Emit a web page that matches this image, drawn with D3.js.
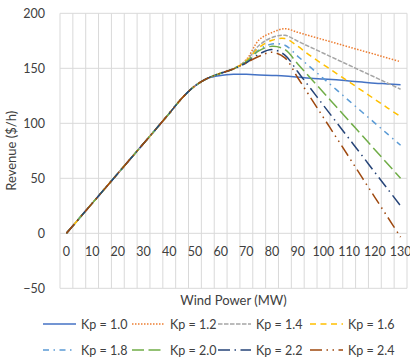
<!DOCTYPE html>
<html lang="en">
<head>
<meta charset="UTF-8">
<title>Revenue vs Wind Power</title>
<script src="https://d3js.org/d3.v7.min.js"></script>
<style>
    body { margin: 0; background: #ffffff; }
    text { font-family: Lato, "Liberation Sans", sans-serif; fill: #404040; }
</style>
</head>
<body>
<div id="chart"></div>
<script>

// wind power categories (MW)
var windPower = [0, 5, 10, 15, 20, 25, 30, 35, 40, 45, 50, 55, 60, 65,
                 70, 75, 80, 85, 90, 95, 100, 105, 110, 115, 120, 125, 130];

// revenue ($/h) per Kp
var kp10 = [0, 13.6, 27.2, 40.8, 54.4, 68, 81.6, 95.2, 109, 123, 134, 141, 143.5, 144.5,
            144.5, 144, 143.5, 143, 142, 141, 140.3, 139.5, 138.5, 137.5, 136.5, 135.8, 135];
var kp12 = [0, 13.6, 27.2, 40.8, 54.4, 68, 81.6, 95.2, 109, 123, 134, 141, 145.5, 149.5,
            158, 176, 182.5, 186, 182.7, 179.3, 176, 172.7, 169.3, 166, 162.7, 159.3, 156];
var kp14 = [0, 13.6, 27.2, 40.8, 54.4, 68, 81.6, 95.2, 109, 123, 134, 141, 145.5, 149.5,
            157, 171, 178, 180, 174.6, 169.1, 163.7, 158.2, 152.8, 147.3, 141.9, 136.4, 131];
var kp16 = [0, 13.6, 27.2, 40.8, 54.4, 68, 81.6, 95.2, 109, 123, 134, 141, 145.5, 149.5,
            157, 169, 175.5, 177, 170, 161.2, 153.3, 145.4, 137.6, 129.7, 121.8, 113.9, 106];
var kp18 = [0, 13.6, 27.2, 40.8, 54.4, 68, 81.6, 95.2, 109, 123, 134, 141, 145.5, 149.5,
            156, 167, 172, 171, 160.9, 150.8, 140.7, 130.6, 120.4, 110.3, 100.2, 90.1, 80];
var kp20 = [0, 13.6, 27.2, 40.8, 54.4, 68, 81.6, 95.2, 109, 123, 134, 141, 145.5, 149.5,
            156, 166, 170, 167, 154, 141, 128, 115, 102, 89, 76, 63, 50];
var kp22 = [0, 13.6, 27.2, 40.8, 54.4, 68, 81.6, 95.2, 109, 123, 134, 141, 145.5, 149.5,
            155, 163, 167, 162, 146.8, 131.6, 116.3, 101.1, 85.9, 70.7, 55.4, 40.2, 25];
var kp24 = [0, 13.6, 27.2, 40.8, 54.4, 68, 81.6, 95.2, 109, 123, 134, 141, 145.5, 149.5,
            155, 161, 164.5, 159.5, 141.4, 123.3, 105.2, 87.1, 69, 50.8, 32.7, 14.6, -3.5];

var seriesNames = ["Kp = 1.0", "Kp = 1.2", "Kp = 1.4", "Kp = 1.6",
                   "Kp = 1.8", "Kp = 2.0", "Kp = 2.2", "Kp = 2.4"];
var seriesValues = [kp10, kp12, kp14, kp16, kp18, kp20, kp22, kp24];

var yTicks = [-50, 0, 50, 100, 150, 200];
var xTickLabels = [0, 10, 20, 30, 40, 50, 60, 70, 80, 90, 100, 110, 120, 130];

// excel-like styles
var colors = ["#4472C4", "#ED7D31", "#A5A5A5", "#FFC000",
              "#5B9BD5", "#70AD47", "#264478", "#9E480E"];
var dashes = ["none", "1.5,1.5", "4.5,1.5", "6,4.5",
              "6,4.5,1.5,4.5", "12,4.5", "12,4.5,1.5,4.5", "12,4.5,1.5,4.5,1.5,4.5"];

var W = 410, H = 361;
var plotLeft = 60, plotRight = 407, plotTop = 13.3, plotBottom = 288.3;

var svg = d3.select("#chart")
    .append("svg")
        .attr("width", W)
        .attr("height", H);

var x = d3.scaleBand()
    .domain(windPower)
    .range([plotLeft, plotRight])
    .padding(0);

var y = d3.scaleLinear()
    .domain([-50, 200])
    .range([plotBottom, plotTop]);

// gridlines
var grid = svg.append("g").attr("stroke", "#d9d9d9").attr("stroke-width", 1);
grid.selectAll("hline")
    .data(yTicks)
    .enter()
    .append("line")
        .attr("x1", plotLeft)
        .attr("x2", plotRight)
        .attr("y1", function(d) { return y(d); })
        .attr("y2", function(d) { return y(d); });
grid.selectAll("vline")
    .data(windPower.concat(["end"]))
    .enter()
    .append("line")
        .attr("x1", function(d, i) { return plotLeft + i * x.bandwidth(); })
        .attr("x2", function(d, i) { return plotLeft + i * x.bandwidth(); })
        .attr("y1", plotTop)
        .attr("y2", plotBottom);

// y axis labels
svg.append("g")
    .attr("transform", "translate(" + (plotLeft - 3) + ",0)")
    .call(d3.axisLeft(y).tickValues(yTicks).tickSize(0).tickPadding(12))
    .call(function(g) { g.select(".domain").remove(); })
    .selectAll("text")
        .style("font-size", "12.5px")
        .style("font-family", "Lato, sans-serif")
        .attr("fill", "#404040");

// x axis labels, under the zero line
svg.append("g")
    .attr("transform", "translate(0," + y(0) + ")")
    .call(d3.axisBottom(x).tickValues(xTickLabels).tickSize(0).tickPadding(14))
    .call(function(g) { g.select(".domain").remove(); })
    .selectAll("text")
        .style("font-size", "12.5px")
        .style("font-family", "Lato, sans-serif")
        .attr("fill", "#404040");

// axis titles
svg.append("text")
    .attr("x", (plotLeft + plotRight) / 2)
    .attr("y", 305)
    .attr("text-anchor", "middle")
    .style("font-size", "13px")
    .text("Wind Power (MW)");

svg.append("text")
    .attr("transform", "translate(16," + ((plotTop + plotBottom) / 2) + ")rotate(-90)")
    .attr("text-anchor", "middle")
    .style("font-size", "13px")
    .text("Revenue ($/h)");

// lines
var line = d3.line()
    .x(function(d, i) { return x(windPower[i]) + x.bandwidth() / 2; })
    .y(function(d) { return y(d); })
    .curve(d3.curveCatmullRom.alpha(0.5));

svg.selectAll("series")
    .data(seriesValues)
    .enter()
    .append("path")
        .attr("d", function(d) { return line(d); })
        .attr("fill", "none")
        .attr("stroke", function(d, i) { return colors[i]; })
        .attr("stroke-width", 1.5)
        .attr("stroke-dasharray", function(d, i) { return dashes[i]; });

// legend
var legX = [43, 132, 218, 310];
var legY = [324, 350];
var legend = svg.selectAll("legend")
    .data(seriesNames)
    .enter()
    .append("g")
        .attr("transform", function(d, i) {
            return "translate(" + legX[i % 4] + "," + legY[Math.floor(i / 4)] + ")";
        });
legend.append("line")
    .attr("x1", 0)
    .attr("x2", 33)
    .attr("y1", 0)
    .attr("y2", 0)
    .attr("stroke", function(d, i) { return colors[i]; })
    .attr("stroke-width", 1.5)
    .attr("stroke-dasharray", function(d, i) { return dashes[i]; });
legend.append("text")
    .attr("x", 38)
    .attr("y", 4.5)
    .style("font-size", "12.5px")
    .text(function(d) { return d; });

</script>
</body>
</html>
